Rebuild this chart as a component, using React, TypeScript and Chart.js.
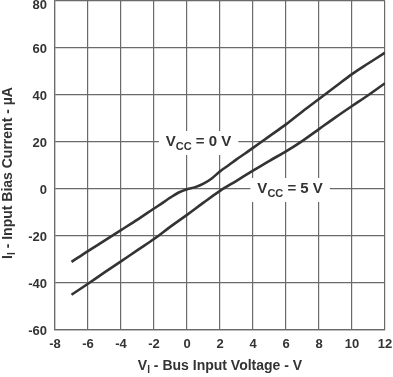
import React, { useEffect, useRef } from "react";
import { Chart, registerables } from "chart.js";

Chart.register(...registerables);

// ---- data ----
const xVcc0 = [-7, -6, -5, -4, -3, -2, -1.5, -1, -0.5, 0, 0.5, 1, 1.5, 2, 2.5, 3, 3.5, 4, 5, 6, 7, 8, 9, 10, 11, 12];
const yVcc0 = [-31, -26.4, -22, -17.5, -13, -8.3, -6, -3.6, -1.5, -0.1, 0.8, 2.3, 4.5, 7.5, 10, 12.6, 15, 17.5, 22.5, 27.5, 33, 38.3, 43.6, 48.9, 53.5, 58];
const xVcc5 = [-7, -6, -5, -4, -3, -2, -1, 0, 1, 2, 3, 4, 5, 6, 7, 8, 9, 10, 11, 12];
const yVcc5 = [-45, -40.3, -35.5, -30.8, -26, -21.3, -16, -11, -5.8, -0.8, 3.5, 7.8, 12, 16, 20.5, 25.5, 30.5, 35.3, 40, 45];

const xMin = -8;
const xMax = 12;
const xStep = 2;
const yMin = -60;
const yMax = 80;
const yStep = 20;

const seriesNames = ["VCC = 0 V", "VCC = 5 V"];

// curve labels: main text, subscript, rest, anchor (data units)
const labelMain = ["V", "V"];
const labelSub = ["CC", "CC"];
const labelRest = [" = 0 V", " = 5 V"];
const labelX = [0.7, 6.25];
const labelY = [20, 0];

const xTitleMain = "V";
const xTitleSub = "I";
const xTitleRest = " - Bus Input Voltage - V";
const yTitleMain = "I";
const yTitleSub = "I";
const yTitleRest = " - Input Bias Current - \u00B5A";

const FONT = "'Liberation Sans', Arial, Helvetica, sans-serif";
const INK = "#333333";

function drawSubText(
  ctx: CanvasRenderingContext2D,
  main: string,
  sub: string,
  rest: string,
  cx: number,
  cy: number,
  size: number,
  subSize: number,
  subDrop: number
) {
  ctx.font = `bold ${size}px ${FONT}`;
  const w1 = ctx.measureText(main).width;
  const w3 = ctx.measureText(rest).width;
  ctx.font = `bold ${subSize}px ${FONT}`;
  const w2 = ctx.measureText(sub).width;
  const total = w1 + w2 + w3;
  let x = cx - total / 2;
  ctx.textAlign = "left";
  ctx.textBaseline = "middle";
  ctx.font = `bold ${size}px ${FONT}`;
  ctx.fillText(main, x, cy);
  x += w1;
  ctx.font = `bold ${subSize}px ${FONT}`;
  ctx.fillText(sub, x, cy + subDrop);
  x += w2;
  ctx.font = `bold ${size}px ${FONT}`;
  ctx.fillText(rest, x, cy);
  return total;
}

const decorPlugin = {
  id: "decor",
  beforeDatasetsDraw(chart: any) {
    const ctx = chart.ctx as CanvasRenderingContext2D;
    const xs = chart.scales.x;
    const ys = chart.scales.y;
    ctx.save();
    for (let i = 0; i < labelMain.length; i++) {
      const cx = xs.getPixelForValue(labelX[i]);
      const cy = ys.getPixelForValue(labelY[i]);
      ctx.font = `bold 15px ${FONT}`;
      const w = ctx.measureText(labelMain[i] + labelRest[i]).width;
      ctx.font = `bold 11px ${FONT}`;
      const ws = ctx.measureText(labelSub[i]).width;
      const total = w + ws;
      ctx.fillStyle = "#ffffff";
      ctx.fillRect(cx - total / 2 - 7, cy - 11, total + 14, 24);
      ctx.fillStyle = INK;
      drawSubText(ctx, labelMain[i], labelSub[i], labelRest[i], cx, cy, 15, 11, 5);
    }
    ctx.restore();
  },
  afterDraw(chart: any) {
    const ctx = chart.ctx as CanvasRenderingContext2D;
    const area = chart.chartArea;
    const ys = chart.scales.y;
    ctx.save();
    ctx.fillStyle = INK;
    // y tick labels (kept inside the canvas at the top)
    ctx.font = `bold 13px ${FONT}`;
    ctx.textAlign = "right";
    ctx.textBaseline = "middle";
    for (const t of ys.ticks) {
      const py = ys.getPixelForValue(t.value);
      ctx.fillText(String(t.value), area.left - 8, Math.max(py + 1.5, 5));
    }
    drawSubText(ctx, xTitleMain, xTitleSub, xTitleRest, (area.left + area.right) / 2, 366, 14, 10, 4);
    ctx.translate(8, 173);
    ctx.rotate(-Math.PI / 2);
    drawSubText(ctx, yTitleMain, yTitleSub, yTitleRest, 0, 0, 14, 10, 4);
    ctx.restore();
  },
};

export default function App() {
  const canvasRef = useRef<HTMLCanvasElement | null>(null);

  useEffect(() => {
    if (!canvasRef.current) return;
    const gridColor = "#6a6a6a";
    const chart = new Chart(canvasRef.current, {
      type: "line",
      data: {
        datasets: [
          {
            label: seriesNames[0],
            data: xVcc0.map((x, i) => ({ x, y: yVcc0[i] })),
            borderColor: INK,
            borderWidth: 2.6,
            pointRadius: 0,
            tension: 0.35,
            fill: false,
          },
          {
            label: seriesNames[1],
            data: xVcc5.map((x, i) => ({ x, y: yVcc5[i] })),
            borderColor: INK,
            borderWidth: 2.6,
            pointRadius: 0,
            tension: 0.35,
            fill: false,
          },
        ],
      },
      options: {
        animation: false,
        responsive: false,
        maintainAspectRatio: false,
        layout: { padding: { top: 1, left: 0, right: 0, bottom: 0 } },
        plugins: {
          legend: { display: false },
          tooltip: { enabled: false },
        },
        scales: {
          x: {
            type: "linear",
            min: xMin,
            max: xMax,
            afterFit(scale: any) {
              scale.height = 47;
              scale.paddingLeft = 0;
              scale.paddingRight = 8;
            },
            ticks: {
              stepSize: xStep,
              color: INK,
              padding: 7,
              maxRotation: 0,
              font: { family: FONT, size: 13, weight: "bold" },
            },
            grid: { color: gridColor, lineWidth: 1.2, drawTicks: false },
            border: { color: gridColor, width: 1.2 },
          },
          y: {
            type: "linear",
            min: yMin,
            max: yMax,
            afterFit(scale: any) {
              scale.width = 55;
              scale.paddingTop = 0;
              scale.paddingBottom = 0;
            },
            ticks: {
              stepSize: yStep,
              display: false,
            },
            grid: { color: gridColor, lineWidth: 1.2, drawTicks: false },
            border: { color: gridColor, width: 1.2 },
          },
        },
      },
      plugins: [decorPlugin],
    } as any);
    return () => chart.destroy();
  }, []);

  return (
    <div style={{ position: "fixed", left: 0, top: 0, width: 393, height: 377, background: "#fff" }}>
      <canvas ref={canvasRef} width={393} height={377} style={{ width: 393, height: 377, display: "block" }} />
    </div>
  );
}
